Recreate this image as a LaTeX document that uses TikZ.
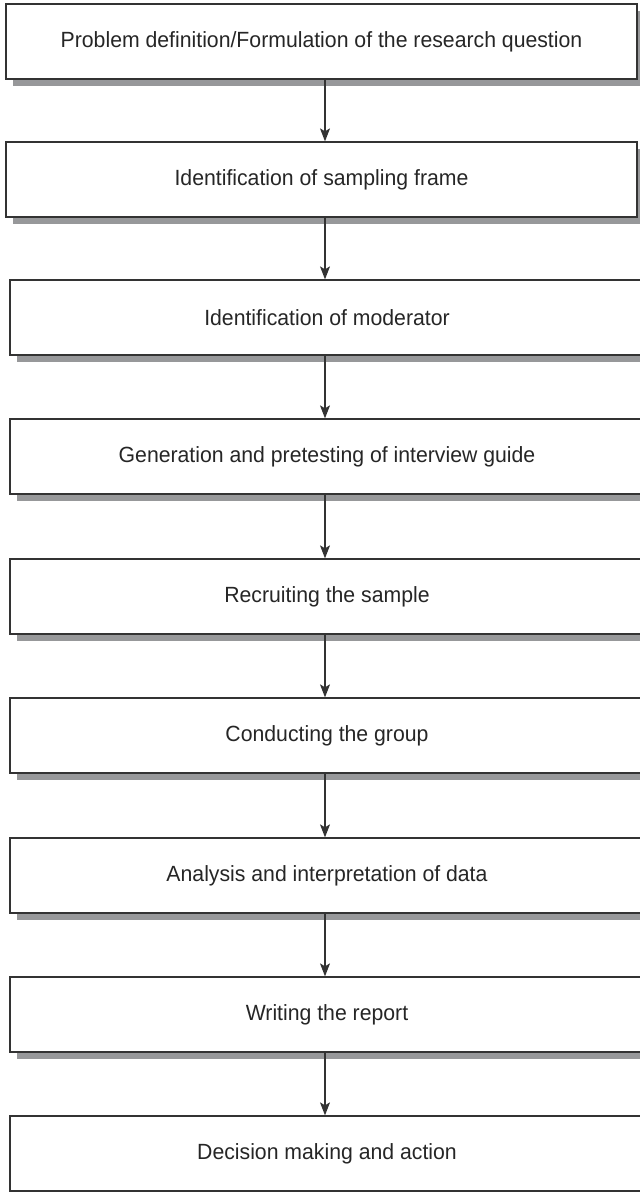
\documentclass[tikz,border=0pt]{standalone}
\usepackage{fontspec}
\setmainfont{Liberation Sans}[FakeStretch=0.965]
\usepackage{tikz}
\usetikzlibrary{arrows.meta,shadows}
\definecolor{boxline}{HTML}{333333}
\definecolor{shadowgray}{HTML}{97989A}
\tikzset{
    every node/.style={draw=boxline, line width=1.3pt, fill=white, rectangle, inner sep=0pt,
        minimum height=75pt, font=\fontsize{22}{26}\selectfont, text=black!85,
        drop shadow={shadow xshift=7pt, shadow yshift=-7pt, fill=shadowgray, opacity=1}}
}
\tikzset{narrowbox/.style={minimum width=631pt}}
\tikzset{widebox/.style={minimum width=634pt}}
\tikzset{flow/.style={draw=boxline, line width=1.2pt, -{Stealth[length=13pt,width=10pt,inset=3pt]}}}

\begin{document}
\begin{tikzpicture}[x=1pt, y=-1pt]
        \useasboundingbox (0,0) rectangle (640,1192);
        \coordinate (ax) at (325,0);
        \node (s1) [narrowbox] at (321.5, 41.5) {Problem definition/Formulation of the research question};
        \node (s2) [narrowbox] at (321.5, 179.5) {Identification of sampling frame};
        \node (s3) [widebox] at (327, 317.5) {Identification of moderator};
        \node (s4) [widebox] at (327, 456.5) {Generation and pretesting of interview guide};
        \node (s5) [widebox] at (327, 596.5) {Recruiting the sample};
        \node (s6) [widebox] at (327, 735.5) {Conducting the group};
        \node (s7) [widebox] at (327, 875.5) {Analysis and interpretation of data};
        \node (s8) [widebox] at (327, 1014.5) {Writing the report};
        \node (s9) [widebox] at (327, 1153.5) {Decision making and action};
        \draw[flow] (s1.south -| ax) -- (s2.north -| ax);
        \draw[flow] (s2.south -| ax) -- (s3.north -| ax);
        \draw[flow] (s3.south -| ax) -- (s4.north -| ax);
        \draw[flow] (s4.south -| ax) -- (s5.north -| ax);
        \draw[flow] (s5.south -| ax) -- (s6.north -| ax);
        \draw[flow] (s6.south -| ax) -- (s7.north -| ax);
        \draw[flow] (s7.south -| ax) -- (s8.north -| ax);
        \draw[flow] (s8.south -| ax) -- (s9.north -| ax);
\end{tikzpicture}
\end{document}
